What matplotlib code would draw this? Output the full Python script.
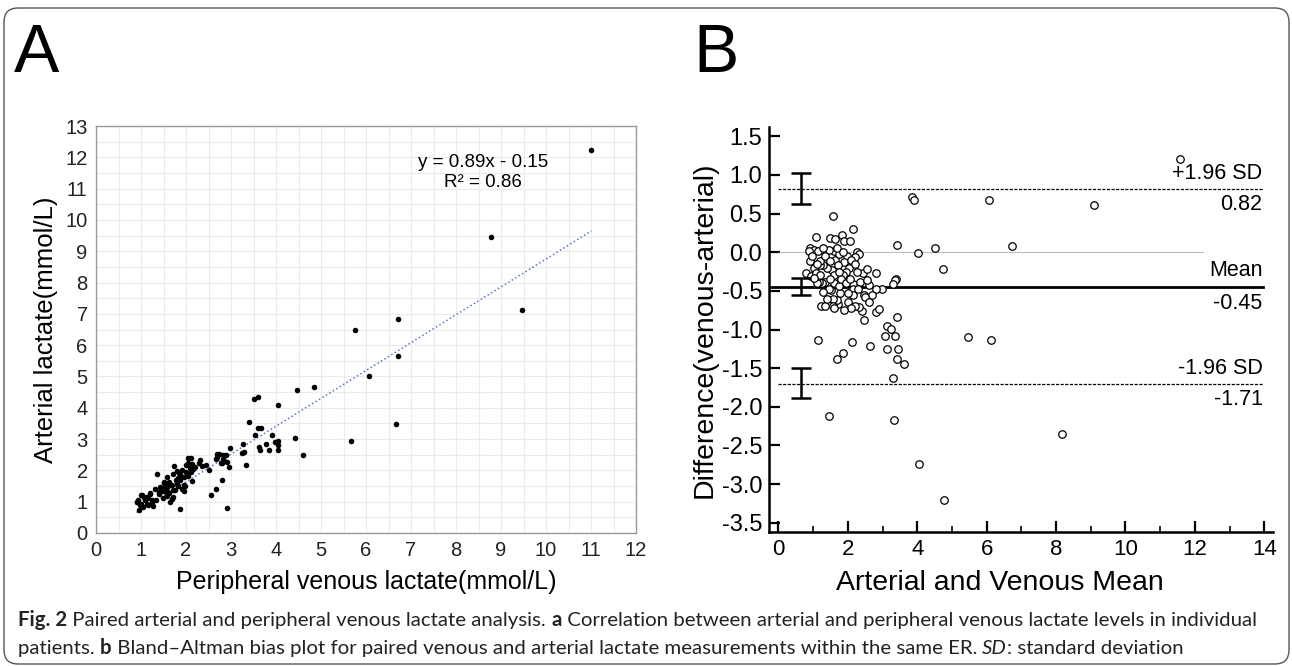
import matplotlib
matplotlib.use("Agg")
import matplotlib.pyplot as plt
from matplotlib.patches import FancyBboxPatch
from matplotlib.transforms import IdentityTransform
from matplotlib.ticker import MultipleLocator, FormatStrFormatter
from matplotlib import font_manager

plt.rcParams['font.family'] = ['Liberation Sans', 'DejaVu Sans']

# ---------------- Panel A data (venous x, arterial y) ----------------
venous = [11.01, 8.78, 9.46, 6.70, 5.76, 6.71, 6.07, 6.66, 5.67, 4.47, 4.84, 3.52, 3.61, 4.04,
          3.40, 3.53, 3.60, 3.66, 3.92, 3.97, 4.04, 4.05, 4.43, 4.59, 4.04, 3.63, 3.64, 3.85,
          3.78, 3.27, 3.29, 3.25, 3.33, 2.98, 2.96, 2.88, 2.90, 2.81, 2.90, 2.73, 2.68, 2.78,
          2.82, 2.84, 2.66, 2.56, 1.87,
          2.83, 2.68, 2.66, 2.79, 2.31, 2.28, 2.44, 2.50, 2.04, 2.00, 2.09, 2.10, 2.05, 2.13,
          1.90, 1.85, 1.79, 1.85, 1.78, 1.83, 1.90, 1.96, 1.74, 1.72, 1.63, 1.57, 1.68, 1.72,
          1.63, 1.68, 1.36, 1.50, 1.42, 1.46, 1.39, 1.53, 1.57, 1.48, 1.33, 1.27, 1.20, 1.16,
          1.09, 1.03, 0.94, 1.01, 0.90, 1.13, 1.24, 1.05,
          0.96, 0.90, 0.99, 1.09, 1.16, 1.21, 1.41, 1.45, 1.52, 1.58, 1.61, 1.64, 1.72, 1.76,
          1.79, 1.83, 1.87, 2.00, 2.04, 2.10, 2.13, 2.15, 1.96, 1.98, 1.79, 1.87, 1.12, 1.30,
          1.55, 1.95, 2.20, 2.35, 0.98, 1.06, 1.25]
arterial = [12.24, 9.45, 7.13, 6.82, 6.48, 5.65, 5.00, 3.48, 2.95, 4.58, 4.66, 4.29, 4.35, 4.09,
            3.53, 3.14, 3.34, 3.36, 3.12, 2.92, 2.93, 2.80, 3.03, 2.48, 2.65, 2.76, 2.64, 2.64,
            2.84, 2.84, 2.60, 2.55, 2.16, 2.72, 2.12, 2.50, 2.27, 1.70, 0.81, 2.52, 2.42, 2.22,
            2.35, 2.30, 1.41, 1.20, 0.76,
            2.50, 2.52, 2.36, 2.23, 2.34, 2.23, 2.18, 2.00, 2.39, 2.18, 2.07, 1.96, 1.83, 1.67,
            2.02, 1.91, 1.99, 1.75, 1.68, 1.51, 1.40, 1.54, 2.13, 1.89, 1.64, 1.78, 1.54, 1.36,
            1.27, 1.08, 1.89, 1.64, 1.48, 1.35, 1.24, 1.46, 1.19, 1.11, 1.06, 0.87, 1.27, 1.11,
            1.08, 1.22, 1.06, 0.93, 1.00, 0.93, 1.00, 0.82,
            0.74, 0.99, 1.21, 1.07, 0.89, 1.26, 1.30, 1.45, 1.60, 1.35, 1.50, 0.99, 1.15, 1.37,
            1.57, 1.75, 1.90, 1.95, 2.25, 2.40, 2.20, 2.05, 1.33, 1.50, 1.65, 1.70, 1.15, 1.40,
            1.30, 1.80, 2.10, 2.15, 0.88, 1.15, 1.05]
slope, intercept, r_squared = 0.89, -0.15, 0.86
xticks_a = list(range(0, 13))
yticks_a = list(range(0, 14))

# ---------------- Panel B data (mean x, difference y) ----------------
ba_mean = [11.58, 9.09, 6.07, 6.73, 6.14, 5.47, 8.18, 4.76, 4.05, 3.32, 1.46, 3.30, 3.85, 3.92,
           3.43, 4.03, 4.50, 4.74,
           1.13, 2.13, 1.69, 1.86, 2.65, 3.13, 3.08, 3.13, 3.25, 3.37, 3.46, 3.41, 3.62, 3.41,
           3.40, 3.35, 3.30, 2.99, 2.82, 2.82, 2.89, 2.46, 2.41, 2.32, 2.62, 2.45, 2.54, 2.27,
           1.58, 1.07, 2.16, 1.84, 1.48, 1.64, 1.88, 2.07,
           2.14, 2.16, 2.15, 2.00, 2.00, 2.46, 2.26, 2.31, 2.22,
           1.98, 1.90, 2.03, 1.95, 1.87, 1.64, 1.71, 1.54, 1.59,
           1.72, 1.69, 1.57, 1.57, 1.51, 1.61, 1.78, 1.74, 1.23, 1.35,
           1.35, 1.26, 1.18, 1.07, 1.40, 1.30, 1.19, 1.21, 0.92, 1.02, 1.13, 0.87, 0.79,
           0.92, 0.97, 1.02, 0.94, 1.07, 1.10, 1.19, 1.10, 1.02,
           1.60, 1.75, 1.45, 1.30, 2.10, 2.20, 1.80, 1.95, 2.05, 2.35, 2.55, 2.80, 2.70, 2.50,
           2.20, 2.08, 1.90, 1.60, 1.45, 1.30, 1.40,
           1.70, 1.85, 1.35, 1.50, 1.75, 1.50, 2.30, 2.60]
ba_diff = [1.20, 0.61, 0.68, 0.08, -1.13, -1.10, -2.35, -3.20, -2.74, -2.17, -2.12, -1.63, 0.71, 0.68,
           0.09, -0.01, 0.06, -0.22,
           -1.14, -1.16, -1.38, -1.31, -1.21, -1.25, -1.08, -0.96, -0.99, -1.08, -1.25, -1.38, -1.45, -0.84,
           -0.35, -0.36, -0.41, -0.47, -0.27, -0.77, -0.73, -0.88, -0.76, -0.71, -0.42, -0.27, -0.22, -0.26,
           0.47, 0.20, 0.30, 0.22, 0.18, 0.17, 0.15, 0.15,
           -0.41, -0.48, -0.56, -0.65, -0.53, -0.56, 0.00, -0.02, -0.06,
           -0.05, -0.13, -0.20, -0.26, -0.30, -0.10, -0.17, -0.23, -0.30,
           -0.67, -0.62, -0.60, -0.70, -0.49, -0.40, -0.53, -0.44, -0.70, -0.70,
           -0.38, -0.40, -0.38, -0.36, -0.20, -0.16, -0.17, -0.11, 0.05, 0.03, 0.02, 0.01, -0.27,
           -0.12, -0.05, -0.20, -0.31, -0.27, -0.15, -0.29, -0.40, -0.34,
           0.02, -0.02, 0.03, 0.05, -0.10, -0.15, -0.35, -0.40, -0.35, -0.38, -0.36, -0.47, -0.55, -0.58,
           -0.70, -0.72, -0.75, -0.72, -0.48, -0.52, -0.60,
           0.05, 0.00, -0.05, -0.12, -0.25, -0.35, -0.48, -0.65]
mean_diff, upper_loa, lower_loa = -0.45, 0.82, -1.71
ci_x = 0.65
ci_upper = [0.62, 1.02]
ci_mean = [-0.55, -0.33]
ci_lower = [-1.88, -1.50]
xticks_b = list(range(0, 15, 2))
yticks_b = [1.5, 1.0, 0.5, 0.0, -0.5, -1.0, -1.5, -2.0, -2.5, -3.0, -3.5]

W, H = 1292, 666
fig = plt.figure(figsize=(W / 100, H / 100), dpi=100)

def fr(l, t, r, b):
    return [l / W, 1 - b / H, (r - l) / W, (b - t) / H]

# outer rounded frame
fig.patches.append(FancyBboxPatch((4, 2), 1285, 656, boxstyle="round,pad=0,rounding_size=14",
                                  transform=IdentityTransform(), fill=False,
                                  edgecolor='#555555', linewidth=1.0))

# ---------------- Panel A ----------------
axA = fig.add_axes(fr(96, 126, 636, 533))
axA.set_xlim(0, 12)
axA.set_ylim(0, 13)
axA.xaxis.set_minor_locator(MultipleLocator(0.5))
axA.yaxis.set_minor_locator(MultipleLocator(0.5))
axA.set_xticks(xticks_a)
axA.set_yticks(yticks_a)
axA.grid(True, which='both', color='#ebebeb', linewidth=0.8)
axA.set_axisbelow(True)
axA.tick_params(which='both', length=0, labelsize=14.5, colors='#222222', pad=6)
for s in axA.spines.values():
    s.set_color('#9a9a9a')
    s.set_linewidth(1.0)
xl = [min(venous), max(venous)]
axA.plot(xl, [slope * v + intercept for v in xl], linestyle=':', color='#5577c8', linewidth=1.1)
axA.scatter(venous, arterial, s=16, color='black', zorder=3, linewidths=0)
axA.text(8.6, 11.85, f"y = {slope:.2f}x - {abs(intercept):.2f}", ha='center', va='center', fontsize=13.5)
axA.text(8.6, 11.18, f"R² = {r_squared:.2f}", ha='center', va='center', fontsize=13.5)
axA.set_xlabel("Peripheral venous lactate(mmol/L)", fontsize=18)
axA.set_ylabel("Arterial lactate(mmol/L)", fontsize=18.5)
axA.xaxis.set_label_coords(0.5, -(582 - 533) / 407, transform=axA.transAxes)
axA.yaxis.set_label_coords((46 - 96) / 540, 0.5, transform=axA.transAxes)
axA.xaxis.label.set_va('center')
axA.yaxis.label.set_va('center')

# ---------------- Panel B ----------------
axB = fig.add_axes(fr(769, 127, 1273, 532))
axB.set_xlim(-0.27, 14.25)
axB.set_ylim(-3.62, 1.62)
axB.set_xticks(xticks_b)
axB.xaxis.set_minor_locator(MultipleLocator(1))
axB.set_yticks(yticks_b)
axB.yaxis.set_major_formatter(FormatStrFormatter('%.1f'))
for side in ['top', 'right']:
    axB.spines[side].set_visible(False)
for side in ['left', 'bottom']:
    axB.spines[side].set_linewidth(1.8)
axB.tick_params(which='major', direction='in', length=8, width=1.6, pad=5)
axB.tick_params(axis='y', labelsize=17)
axB.tick_params(axis='x', labelsize=16)
axB.tick_params(which='minor', direction='in', length=4, width=1.2)
axB.plot([0, 13.97], [upper_loa, upper_loa], color='black', linewidth=0.9, linestyle=(0, (2.5, 1.2)))
axB.plot([0, 13.97], [lower_loa, lower_loa], color='black', linewidth=0.9, linestyle=(0, (2.5, 1.2)))
axB.plot([-0.27, 13.97], [mean_diff, mean_diff], color='black', linewidth=2.0)
axB.plot([0, 12.27], [0, 0], color='#888888', linewidth=0.8, linestyle=(0, (1, 0.8)))
axB.scatter(ba_mean, ba_diff, s=29, facecolors='white', edgecolors='black', linewidths=0.9, zorder=3)
cent = [sum(ci_upper) / 2, sum(ci_mean) / 2, sum(ci_lower) / 2]
err = [(ci_upper[1] - ci_upper[0]) / 2, (ci_mean[1] - ci_mean[0]) / 2, (ci_lower[1] - ci_lower[0]) / 2]
axB.errorbar([ci_x] * 3, cent, yerr=err, fmt='none', ecolor='black', elinewidth=1.8,
             capsize=7, capthick=1.8, zorder=4)
lx = 13.95
axB.text(lx, 1.02, "+1.96 SD", ha='right', va='center', fontsize=15.5)
axB.text(lx, 0.62, f"{upper_loa:.2f}", ha='right', va='center', fontsize=15.5)
axB.text(lx, -0.24, "Mean", ha='right', va='center', fontsize=15.5)
axB.text(lx, -0.66, f"{mean_diff:.2f}", ha='right', va='center', fontsize=15.5)
axB.text(lx, -1.50, "-1.96 SD", ha='right', va='center', fontsize=15.5)
axB.text(lx, -1.90, f"{lower_loa:.2f}", ha='right', va='center', fontsize=15.5)
axB.set_xlabel("Arterial and Venous Mean", fontsize=20.5)
axB.set_ylabel("Difference(venous-arterial)", fontsize=20.5)
axB.xaxis.set_label_coords((1000 - 769) / 504, -(583 - 532) / 405, transform=axB.transAxes)
axB.yaxis.set_label_coords((705 - 769) / 504, (532 - 330) / 405, transform=axB.transAxes)
axB.xaxis.label.set_va('center')
axB.yaxis.label.set_va('center')

# panel letters
fig.text(14 / W, 1 - 72 / H, "A", fontsize=49, ha='left', va='baseline')
fig.text(693 / W, 1 - 72 / H, "B", fontsize=49, ha='left', va='baseline')

# ---------------- caption ----------------
names = {f.name for f in font_manager.fontManager.ttflist}
cap_font = 'Lato' if 'Lato' in names else 'DejaVu Sans'
line1 = [("Fig. 2", 'bold', 'normal'),
         (" Paired arterial and peripheral venous lactate analysis. ", 'normal', 'normal'),
         ("a", 'bold', 'normal'),
         (" Correlation between arterial and peripheral venous lactate levels in individual", 'normal', 'normal')]
line2 = [("patients. ", 'normal', 'normal'),
         ("b", 'bold', 'normal'),
         (" Bland–Altman bias plot for paired venous and arterial lactate measurements within the same ER. ", 'normal', 'normal'),
         ("SD", 'normal', 'italic'),
         (": standard deviation", 'normal', 'normal')]

renderer = fig.canvas.get_renderer()

def draw_line(segs, x0, ybase, size):
    x = x0
    arts = []
    for txt, wt, st in segs:
        t = fig.text(x / W, 1 - ybase / H, txt, fontsize=size, fontweight=wt, fontstyle=st,
                     family=[cap_font, 'DejaVu Sans'], color='#222222', ha='left', va='baseline')
        bb = t.get_window_extent(renderer)
        x += bb.width
        arts.append(t)
    return x, arts

end, arts = draw_line(line1, 18, 626, 12)
width12 = end - 18
for a in arts:
    a.remove()
size = 12 * (1235 / width12)
draw_line(line1, 18, 626, size)
draw_line(line2, 18, 654, size)

fig.savefig("out.png", dpi=100)
